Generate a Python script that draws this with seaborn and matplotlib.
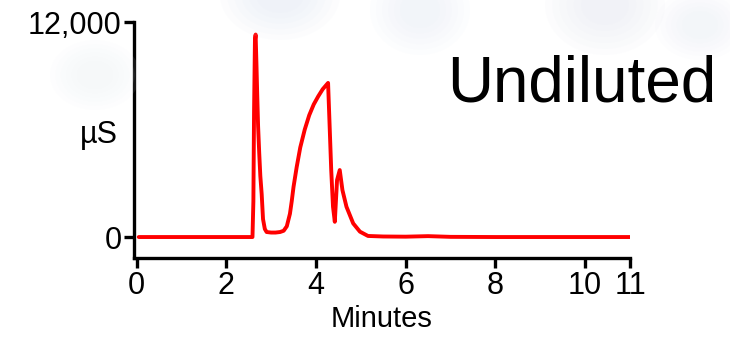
import matplotlib
matplotlib.use("Agg")
import matplotlib.pyplot as plt
from matplotlib.patches import Ellipse
import seaborn as sns
import pandas as pd

# Data (minutes, µS)
time_min = [0.05, 1.0, 2.0, 2.585, 2.605, 2.62, 2.64, 2.655, 2.675, 2.69, 2.71, 2.735,
            2.76, 2.79, 2.82, 2.86, 2.9, 3.0, 3.1, 3.2, 3.28, 3.35, 3.42, 3.46, 3.5,
            3.57, 3.65, 3.75, 3.85, 3.95, 4.05, 4.15, 4.27, 4.30, 4.34, 4.38, 4.42,
            4.47, 4.53, 4.59, 4.68, 4.83, 4.98, 5.16, 5.5, 6.0, 6.5, 7.0, 8.0, 11.0]
conductivity = [0, 0, 0, 0, 2000, 7000, 11000, 11300, 9500, 8000, 6200, 4700,
                3400, 2400, 1000, 450, 280, 250, 250, 280, 350, 600, 1300, 2000, 2800,
                3900, 5000, 6000, 6800, 7400, 7850, 8250, 8600, 6530, 3740, 1690, 850,
                3180, 3740, 2620, 1690, 760, 300, 60, 30, 20, 50, 10, 0, 0]

x_ticks = [0, 2, 4, 6, 8, 10, 11]
y_ticks = [0, 12000]
y_tick_labels = ["0", "12,000"]
title_text = "Undiluted"
x_label = "Minutes"
y_label = "µS"

sns.set_style("ticks")
plt.rcParams['font.family'] = ['Liberation Sans', 'DejaVu Sans']
plt.rcParams['text.color'] = 'black'
plt.rcParams['xtick.color'] = 'black'
plt.rcParams['ytick.color'] = 'black'
plt.rcParams['axes.labelcolor'] = 'black'

fig = plt.figure(figsize=(7.3, 3.37), dpi=100)
fig.patch.set_facecolor("white")

# faint, soft decorative background circles
for (cx, cy, w, h, c) in [(280, -5, 120, 90, "#dfe8f2"), (420, 10, 100, 90, "#e6edf5"),
                          (605, 5, 120, 100, "#e3e7f1"), (95, 75, 90, 70, "#eef2f7"),
                          (700, 25, 90, 70, "#e9eef4")]:
    for k in range(6):
        f = 1 - k * 0.12
        fig.patches.append(Ellipse((cx / 730, 1 - cy / 337), w * f / 730, h * f / 337,
                                   transform=fig.transFigure, facecolor=c,
                                   edgecolor="none", alpha=0.09, zorder=0))

ax = fig.add_axes([134 / 730, 1 - 258 / 337, (630 - 134) / 730, (258 - 22) / 337])
ax.patch.set_alpha(0)

df = pd.DataFrame({"Minutes": time_min, "uS": conductivity})
sns.lineplot(data=df, x="Minutes", y="uS", color="#ff0000", linewidth=2.8, ax=ax)

ax.set_xlim(-0.056, 11)
ax.set_ylim(-1170, 12000)
ax.set_xticks(x_ticks)
ax.set_xticklabels([str(t) for t in x_ticks])
ax.set_yticks(y_ticks)
ax.set_yticklabels(y_tick_labels)
ax.tick_params(axis="both", labelsize=22, length=7, width=2.4, color="black",
               labelcolor="black", pad=2)

for s in ["top", "right"]:
    ax.spines[s].set_visible(False)
for s in ["left", "bottom"]:
    ax.spines[s].set_linewidth(2.4)
    ax.spines[s].set_color("black")

ax.set_xlabel(x_label, fontsize=21, labelpad=3)
ax.set_ylabel(y_label, fontsize=22, rotation=0, va="center", ha="right")
ax.yaxis.set_label_coords(-0.033, 0.52)

fig.text(716 / 730, 1 - 85 / 337, title_text, fontsize=46, ha="right", va="center")

fig.savefig("out.png", dpi=100, facecolor=fig.get_facecolor())
